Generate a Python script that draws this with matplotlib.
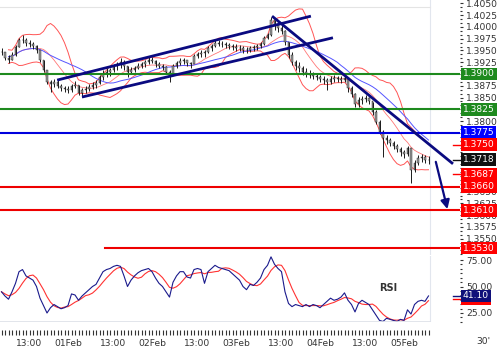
import matplotlib
matplotlib.use("Agg")
import matplotlib.pyplot as plt
import matplotlib.transforms as mtransforms
from matplotlib.ticker import FixedLocator, MultipleLocator, AutoMinorLocator
import numpy as np
import pandas as pd

# hourly bars, hours counted from 01Feb 00:00
hours = np.arange(-19, 104)
high = [1.3955, 1.3947, 1.3940, 1.3947, 1.3962, 1.3977, 1.3983, 1.3977, 1.3972, 1.3968,
        1.3962, 1.3947, 1.3930, 1.3909, 1.3887, 1.3889, 1.3887, 1.3879, 1.3874, 1.3874,
        1.3879, 1.3885, 1.3877, 1.3870, 1.3874, 1.3879, 1.3883, 1.3887, 1.3898, 1.3909,
        1.3913, 1.3913, 1.3921, 1.3926, 1.3934, 1.3930, 1.3917, 1.3915, 1.3917, 1.3923,
        1.3926, 1.3930, 1.3936, 1.3936, 1.3930, 1.3926, 1.3921, 1.3917, 1.3909, 1.3921,
        1.3928, 1.3934, 1.3934, 1.3930, 1.3926, 1.3943, 1.3947, 1.3951, 1.3951, 1.3960,
        1.3964, 1.3972, 1.3972, 1.3970, 1.3968, 1.3966, 1.3964, 1.3964, 1.3962, 1.3960,
        1.3957, 1.3960, 1.3962, 1.3964, 1.3968, 1.3981, 1.3987, 1.4021, 1.4015, 1.4008,
        1.4004, 1.3994, 1.3968, 1.3947, 1.3930, 1.3926, 1.3917, 1.3913, 1.3909, 1.3904,
        1.3902, 1.3898, 1.3896, 1.3891, 1.3896, 1.3898, 1.3896, 1.3896, 1.3900, 1.3891,
        1.3874, 1.3860, 1.3851, 1.3853, 1.3855, 1.3851, 1.3840, 1.3823, 1.3802, 1.3781,
        1.3770, 1.3764, 1.3758, 1.3751, 1.3745, 1.3738, 1.3747, 1.3743, 1.3717, 1.3728,
        1.3730, 1.3728, 1.3726]
low = [1.3940, 1.3930, 1.3923, 1.3930, 1.3938, 1.3957, 1.3966, 1.3960, 1.3957, 1.3953,
       1.3945, 1.3926, 1.3904, 1.3879, 1.3862, 1.3872, 1.3870, 1.3864, 1.3862, 1.3860,
       1.3862, 1.3870, 1.3855, 1.3851, 1.3860, 1.3864, 1.3868, 1.3870, 1.3879, 1.3887,
       1.3894, 1.3896, 1.3904, 1.3909, 1.3913, 1.3909, 1.3894, 1.3900, 1.3904, 1.3911,
       1.3913, 1.3915, 1.3921, 1.3923, 1.3915, 1.3913, 1.3909, 1.3900, 1.3883, 1.3900,
       1.3913, 1.3919, 1.3921, 1.3917, 1.3913, 1.3926, 1.3934, 1.3936, 1.3936, 1.3945,
       1.3949, 1.3957, 1.3960, 1.3957, 1.3955, 1.3953, 1.3951, 1.3949, 1.3949, 1.3945,
       1.3945, 1.3947, 1.3949, 1.3951, 1.3955, 1.3962, 1.3974, 1.3981, 1.3994, 1.3989,
       1.3985, 1.3962, 1.3934, 1.3919, 1.3909, 1.3904, 1.3898, 1.3894, 1.3891, 1.3889,
       1.3887, 1.3883, 1.3879, 1.3866, 1.3879, 1.3883, 1.3883, 1.3881, 1.3883, 1.3862,
       1.3851, 1.3830, 1.3830, 1.3836, 1.3840, 1.3836, 1.3813, 1.3794, 1.3772, 1.3724,
       1.3751, 1.3747, 1.3741, 1.3734, 1.3726, 1.3721, 1.3726, 1.3668, 1.3692, 1.3707,
       1.3713, 1.3711, 1.3709]
close = [1.3947, 1.3934, 1.3930, 1.3940, 1.3957, 1.3972, 1.3972, 1.3966, 1.3964, 1.3960,
         1.3951, 1.3930, 1.3909, 1.3883, 1.3879, 1.3883, 1.3874, 1.3870, 1.3868, 1.3866,
         1.3874, 1.3877, 1.3860, 1.3866, 1.3868, 1.3872, 1.3877, 1.3881, 1.3894, 1.3900,
         1.3904, 1.3909, 1.3917, 1.3921, 1.3926, 1.3917, 1.3904, 1.3909, 1.3913, 1.3917,
         1.3921, 1.3926, 1.3930, 1.3928, 1.3921, 1.3917, 1.3915, 1.3904, 1.3896, 1.3917,
         1.3923, 1.3928, 1.3930, 1.3923, 1.3921, 1.3938, 1.3943, 1.3945, 1.3947, 1.3955,
         1.3960, 1.3966, 1.3964, 1.3964, 1.3962, 1.3960, 1.3957, 1.3955, 1.3955, 1.3951,
         1.3951, 1.3955, 1.3957, 1.3960, 1.3964, 1.3977, 1.3983, 1.4015, 1.4004, 1.3998,
         1.3991, 1.3968, 1.3940, 1.3926, 1.3917, 1.3913, 1.3904, 1.3900, 1.3898, 1.3896,
         1.3894, 1.3889, 1.3887, 1.3883, 1.3889, 1.3891, 1.3889, 1.3887, 1.3891, 1.3870,
         1.3857, 1.3836, 1.3845, 1.3847, 1.3849, 1.3843, 1.3819, 1.3798, 1.3777, 1.3764,
         1.3760, 1.3753, 1.3747, 1.3741, 1.3734, 1.3730, 1.3743, 1.3696, 1.3711, 1.3721,
         1.3724, 1.3717, 1.3718]

# RSI
rsi = [45, 41, 38, 45, 53, 64, 66, 60, 58, 56,
       50, 39, 32, 25, 30, 33, 31, 29, 30, 32,
       43, 42, 37, 41, 44, 47, 50, 52, 58, 64,
       66, 67, 69, 70, 69, 60, 50, 56, 60, 63,
       65, 66, 67, 64, 58, 53, 50, 45, 40, 54,
       60, 64, 64, 59, 58, 66, 67, 66, 53, 64,
       67, 70, 68, 67, 66, 65, 62, 59, 56, 50,
       47, 52, 51, 54, 58, 66, 70, 78, 71, 67,
       64, 45, 34, 31, 33, 32, 31, 33, 31, 33,
       32, 30, 33, 36, 39, 37, 38, 40, 44, 37,
       33, 26, 34, 37, 35, 33, 28, 23, 18, 17,
       20, 19, 18, 17, 19, 18, 28, 24, 33, 36,
       37, 36, 41.1]

# support / resistance levels
levels = [1.3900, 1.3825, 1.3775, 1.3660, 1.3610, 1.3530]
level_colors = ["#1e8a1e", "#1e8a1e", "#0000dd", "#ee0000", "#ee0000", "#ee0000"]
level_from = [-19.5, -19.5, -19.5, -19.5, -19.5, 10.5]

# right-hand value tags
tag_values = [1.3900, 1.3825, 1.3775, 1.3750, 1.3718, 1.3687, 1.3660, 1.3610, 1.3530]
tag_colors = ["#1e8a1e", "#1e8a1e", "#0000ff", "#ff0000", "#111111", "#ff0000",
              "#ff0000", "#ff0000", "#ff0000"]
stub_values = [1.3750, 1.3718, 1.3687]
stub_colors = ["#ff0000", "#111111", "#ff0000"]
hidden_ticks = [1.3900, 1.3825, 1.3775, 1.3750, 1.3725, 1.3700, 1.3675, 1.3525]

# trend lines (hours, price)
channel_top = ([-3.1, 69.4], [1.3887, 1.4023])
channel_bottom = ([4.0, 75.7], [1.3851, 1.3977])
down_trend = ([58.3, 110.0], [1.4023, 1.3709])
arrow_from = (104.9, 1.3719)
arrow_to = (108.6, 1.3607)

# signal tag first, so the RSI tag sits on top of it
rsi_tags = [(38.14, "38.14", "#ff0000"), (41.10, "41.10", "#10107a")]
time_ticks = [-11, 0, 13, 24, 37, 48, 61, 72, 85, 96]
time_labels = ["13:00", "01Feb", "13:00", "02Feb", "13:00", "03Feb", "13:00", "04Feb", "13:00", "05Feb"]

close_s = pd.Series(close)
opens = np.r_[close[0], close[:-1]]
mid = close_s.rolling(10, min_periods=3).mean()
sd = close_s.rolling(10, min_periods=3).std(ddof=0)
ma = close_s.rolling(20, min_periods=3).mean()
rsi_sig = pd.Series(rsi).rolling(5, min_periods=1).mean()

W, H = 500, 349
fig = plt.figure(figsize=(5, 3.49), dpi=100)
ax = fig.add_axes([0, 1 - 255 / H, 460 / W, 255 / H])
ax2 = fig.add_axes([0, 1 - 322 / H, 460 / W, 66 / H])
xlim = (-19.43, 112.0)
for a in (ax, ax2):
    a.set_xlim(*xlim)
    for s in a.spines.values():
        s.set_visible(False)
    a.axvline(103.4, color="#e2e6ee", lw=0.8, zorder=0)

ax.set_ylim(1.35152, 1.40573)
ax.axhline(1.40424, xmax=(103.4 - xlim[0]) / (xlim[1] - xlim[0]), color="#e4e4e4", lw=0.8)

# indicators
ax.plot(hours, mid + 2 * sd, color="#ff5555", lw=0.7)
ax.plot(hours, mid - 2 * sd, color="#ff5555", lw=0.7)
ax.plot(hours, mid, color="#ff7777", lw=0.6)
ax.plot(hours, ma, color="#5555ff", lw=0.7)

# bars
body_lo = np.minimum(opens, close)
body_h = np.maximum(np.abs(np.array(close) - opens), 0.00006)
ax.vlines(hours, low, high, color="#1a1a1a", lw=0.7, zorder=3)
ax.bar(hours, body_h, bottom=body_lo, width=0.55, color="#9a9a9a",
       edgecolor="#1a1a1a", linewidth=0.3, zorder=4)

for lv, c, x0 in zip(levels, level_colors, level_from):
    ax.plot([x0, xlim[1]], [lv, lv], color=c, lw=1.5, zorder=5)

navy = "#0a0a80"
for xs, ys in (channel_top, channel_bottom, down_trend):
    ax.plot(xs, ys, color=navy, lw=2, zorder=6, solid_capstyle="butt")
ax.annotate("", xy=arrow_to, xytext=arrow_from,
            arrowprops=dict(arrowstyle="-|>", color=navy, lw=1.6, mutation_scale=13), zorder=6)


def price_fmt(v, pos):
    if any(abs(v - h) < 1e-6 for h in hidden_ticks):
        return ""
    return f"{v:.4f}"


# right axis
ax.yaxis.tick_right()
ax.yaxis.set_major_locator(MultipleLocator(0.0025))
ax.yaxis.set_minor_locator(AutoMinorLocator(3))
ax.yaxis.set_major_formatter(price_fmt)
ax.tick_params(axis="y", which="major", length=2.5, width=0.8, color="#333333",
               labelsize=6.6, labelcolor="#333333", pad=2)
ax.tick_params(axis="y", which="minor", length=1.5, width=0.8, color="#333333")
ax.tick_params(axis="x", which="both", bottom=False, labelbottom=False)

tr = mtransforms.blended_transform_factory(ax.transAxes, ax.transData)
for v, c in zip(tag_values, tag_colors):
    ax.text(1.0065, v, f"{v:.4f}", transform=tr, ha="left", va="center", fontsize=6.6,
            color="white", zorder=10, clip_on=False,
            bbox=dict(boxstyle="square,pad=0.2", fc=c, ec="none"))
for v, c in zip(stub_values, stub_colors):
    ax.plot([110.0, 112.9], [v, v], color=c, lw=1, clip_on=False)

# RSI panel
ax2.set_ylim(16.5, 78.8)
ax2.plot(hours, rsi_sig, color="#ff3333", lw=0.8)
ax2.plot(hours, rsi, color="#1a1a8c", lw=0.8)
ax2.axhline(16.5, xmax=(103.4 - xlim[0]) / (xlim[1] - xlim[0]), color="#dde0e8", lw=1.2)
ax2.text(91.4, 48.5, "RSI", fontsize=7, fontweight="bold", color="#333333", ha="center", va="center")
ax2.yaxis.tick_right()
ax2.yaxis.set_major_locator(FixedLocator([25, 50, 75]))
ax2.yaxis.set_minor_locator(MultipleLocator(25 / 6))
ax2.yaxis.set_major_formatter(lambda v, p: f"{v:.2f}")
ax2.tick_params(axis="y", which="major", length=2.5, width=0.8, color="#333333",
                labelsize=6.6, labelcolor="#333333", pad=2)
ax2.tick_params(axis="y", which="minor", length=1.5, width=0.8, color="#333333")
tr2 = mtransforms.blended_transform_factory(ax2.transAxes, ax2.transData)
for k, (v, txt, c) in enumerate(rsi_tags):
    ax2.text(1.0065, v, txt, transform=tr2, ha="left", va="center", fontsize=6.6,
             color="white", zorder=10 + k, clip_on=False,
             bbox=dict(boxstyle="square,pad=0.2", fc=c, ec="none"))
    ax2.plot([110.0, 112.9], [v, v], color=c, lw=1, clip_on=False)

ax2.spines["bottom"].set_position(("outward", 6))
ax2.xaxis.set_major_locator(FixedLocator(time_ticks))
ax2.xaxis.set_major_formatter(plt.FixedFormatter(time_labels))
ax2.xaxis.set_minor_locator(FixedLocator(hours))
ax2.tick_params(axis="x", which="both", length=3.5, width=0.8, color="#333333",
                labelsize=6.6, labelcolor="#333333", pad=3)
fig.text(483 / W, 1 - 342 / H, "30'", fontsize=6.6, color="#333333", ha="center", va="center")

fig.savefig("out.png", dpi=100, facecolor="white")
